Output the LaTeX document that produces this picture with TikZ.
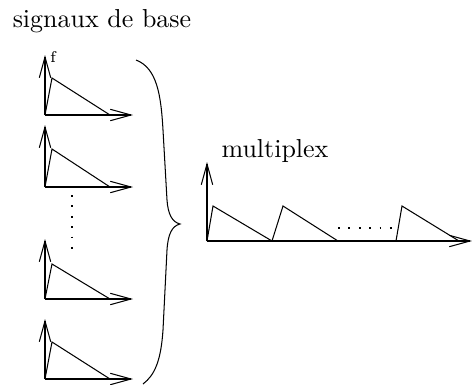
\documentclass[tikz,border=0pt]{standalone}
\usepackage{amsmath,amssymb}
\usetikzlibrary{arrows.meta}

\begin{document}
\begin{tikzpicture}[x=0.385pt,y=-0.385pt,
  sigaxis/.style={-{Straight Barb[length=8pt,width=4.4pt]}},
  dots/.style={dash pattern=on 0.7pt off 3.3pt}]
\useasboundingbox (0,0) rectangle (472,385);

\node[anchor=base] (base) at (102,27) {signaux de base};
\node[anchor=base] (mux) at (275,157) {multiplex};
\node[font=\fontsize{6}{7}\selectfont] (f) at (53,57) {f};

% signaux de base
\draw[sigaxis] (45,115) -- (45,55);
\draw[sigaxis] (45,115) -- (133,115);
\draw (45,115) -- (52,78) -- (110,115);

\draw[sigaxis] (45,187) -- (45,125);
\draw[sigaxis] (45,187) -- (133,187);
\draw (45,187) -- (52,149) -- (110,187);

\draw[dots] (72,195) -- (72,253);

\draw[sigaxis] (45,299) -- (45,239);
\draw[sigaxis] (45,299) -- (133,299);
\draw (45,299) -- (52,264) -- (110,299);

\draw[sigaxis] (45,379) -- (45,319);
\draw[sigaxis] (45,379) -- (133,379);
\draw (45,379) -- (52,342) -- (110,379);

% accolade
\draw (136,60) .. controls (157,68) and (161,95) .. (163,130) -- (167,200)
  .. controls (168,214) and (172,222) .. (180,224)
  .. controls (172,226) and (168,234) .. (167,250) -- (163,330)
  .. controls (161,360) and (155,375) .. (143,384);

% multiplex
\draw[sigaxis] (207,241) -- (207,162);
\draw[sigaxis] (207,241) -- (472,241);
\draw (207,241) -- (213,206) -- (272,241) -- (283,206) -- (338,241);
\draw (396,241) -- (402,206) -- (459,241);
\draw[dots] (338,228) -- (392,228);
\end{tikzpicture}
\end{document}
